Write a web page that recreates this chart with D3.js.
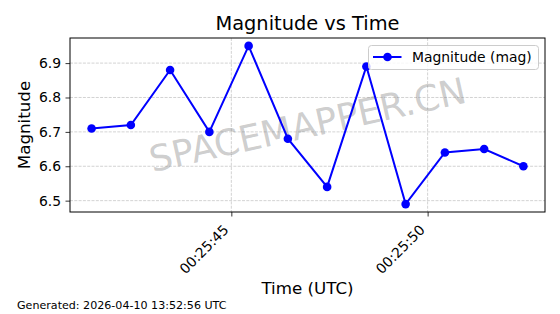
<!DOCTYPE html>
<html><head><meta charset="utf-8">
<script src="https://cdn.jsdelivr.net/npm/d3@7"></script>
<style>body{margin:0;background:#fff}svg{display:block}text{font-family:"DejaVu Sans",sans-serif}</style>
</head><body><svg id="c" width="560" height="314"></svg>
<script>
const times = ["00:25:41.44","00:25:42.44","00:25:43.44","00:25:44.44","00:25:45.44","00:25:46.44","00:25:47.44","00:25:48.44","00:25:49.44","00:25:50.44","00:25:51.44","00:25:52.44"];
const magnitudes = [6.71,6.72,6.88,6.70,6.95,6.68,6.54,6.89,6.49,6.64,6.65,6.60];
const yTicks = [6.5,6.6,6.7,6.8,6.9];
const xTicks = ["00:25:45","00:25:50"];
const title = "Magnitude vs Time";
const xLabel = "Time (UTC)";
const yLabel = "Magnitude";
const legendLabel = "Magnitude (mag)";
const watermark = "SPACEMAPPER.CN";
const footer = "Generated: 2026-04-10 13:52:56 UTC";

const parse = s => new Date("2026-04-10T" + s + "Z");
const data = times.map((t,i)=>({t:parse(t), v:magnitudes[i]}));
const svg = d3.select("#c");
const L=70,R=545,T=38,B=212;
const tExt = d3.extent(data,d=>d.t);
const span = tExt[1]-tExt[0];
const x = d3.scaleUtc().domain([new Date(+tExt[0]-span*0.05), new Date(+tExt[1]+span*0.05)]).range([L,R]);
const vExt = d3.extent(magnitudes);
const vs = vExt[1]-vExt[0];
const y = d3.scaleLinear().domain([vExt[0]-vs*0.05, vExt[1]+vs*0.05]).range([B,T]);
const xt = xTicks.map(parse);

// grid
const g = svg.append("g");
g.selectAll(".gy").data(yTicks).join("line").attr("x1",L).attr("x2",R)
 .attr("y1",d=>y(d)).attr("y2",d=>y(d)).attr("stroke","#b0b0b0").attr("stroke-opacity",0.7).attr("stroke-width",0.8).attr("stroke-dasharray","3,1.3");
g.selectAll(".gx").data(xt).join("line").attr("y1",T).attr("y2",B)
 .attr("x1",d=>x(d)).attr("x2",d=>x(d)).attr("stroke","#b0b0b0").attr("stroke-opacity",0.7).attr("stroke-width",0.8).attr("stroke-dasharray","3,1.3");

// watermark
const cx=(L+R)/2, cy=(T+B)/2;
svg.append("text").attr("x",cx).attr("y",cy).attr("text-anchor","middle").attr("dominant-baseline","central")
 .attr("transform",`rotate(-12.5,${cx},${cy})`).attr("font-size",36).attr("fill","#808080").attr("fill-opacity",0.4).text(watermark);

// line
svg.append("path").datum(data).attr("d",d3.line().x(d=>x(d.t)).y(d=>y(d.v))).attr("fill","none").attr("stroke","#0000ff").attr("stroke-width",2);
svg.selectAll(".pt").data(data).join("circle").attr("cx",d=>x(d.t)).attr("cy",d=>y(d.v)).attr("r",4.3).attr("fill","#0000ff");

// axes
const ax = d3.axisBottom(x).tickValues(xt).tickFormat(d3.utcFormat("%H:%M:%S")).tickSize(4.5);
const xa = svg.append("g").attr("transform",`translate(0,${B})`).call(ax);
xa.select(".domain").remove();
xa.selectAll("text").attr("font-size",13.9).attr("fill","#000").attr("text-anchor","end")
 .attr("x",0).attr("y",0).attr("dy",null).attr("transform","translate(-2.3,18.7) rotate(-45)");
const ay = d3.axisLeft(y).tickValues(yTicks).tickFormat(d3.format(".1f")).tickSize(4.5).tickPadding(4.5);
const ya = svg.append("g").attr("transform",`translate(${L},0)`).call(ay);
ya.select(".domain").remove();
ya.selectAll("text").attr("font-size",13.9).attr("fill","#000");
svg.selectAll(".tick line").attr("stroke","#000").attr("stroke-width",0.8);
svg.append("rect").attr("x",L).attr("y",T).attr("width",R-L).attr("height",B-T).attr("fill","none").attr("stroke","#000").attr("stroke-width",1);

// legend
const lg = svg.append("g");
lg.append("rect").attr("x",368.5).attr("y",45.5).attr("width",170).attr("height",24).attr("rx",3).attr("fill","#fff").attr("fill-opacity",0.8).attr("stroke","#ccc");
lg.append("line").attr("x1",373).attr("x2",401.5).attr("y1",57).attr("y2",57).attr("stroke","#0000ff").attr("stroke-width",2);
lg.append("circle").attr("cx",387.5).attr("cy",57).attr("r",4.3).attr("fill","#0000ff");
lg.append("text").attr("x",412).attr("y",62).attr("font-size",13.9).text(legendLabel);

// labels
svg.append("text").attr("x",cx).attr("y",30).attr("text-anchor","middle").attr("font-size",19.4).text(title);
svg.append("text").attr("x",cx).attr("y",294).attr("text-anchor","middle").attr("font-size",16.7).text(xLabel);
svg.append("text").attr("transform",`translate(30,${cy}) rotate(-90)`).attr("text-anchor","middle").attr("font-size",16.7).text(yLabel);
svg.append("text").attr("x",17).attr("y",309).attr("font-size",11.1).text(footer);
</script></body></html>
